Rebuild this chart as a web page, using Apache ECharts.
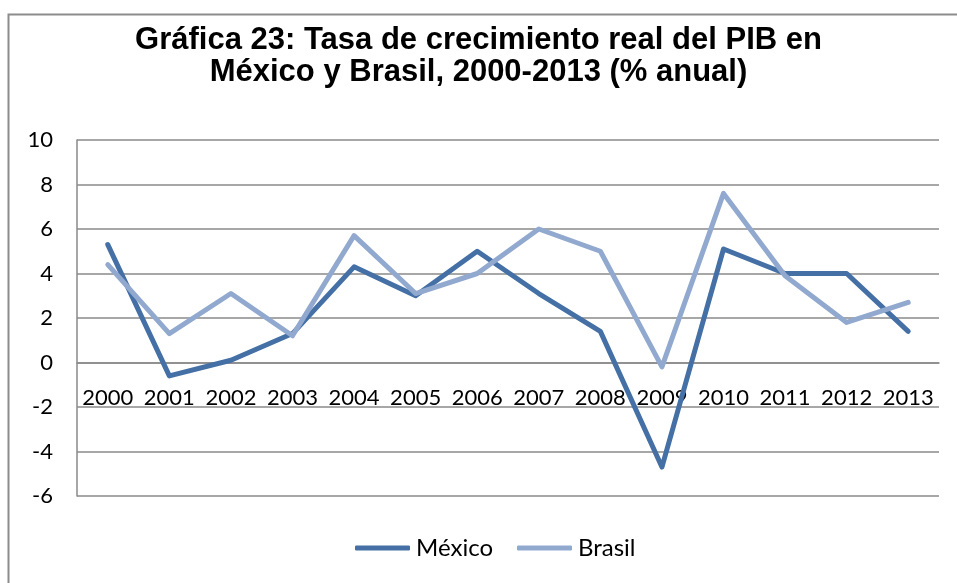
<!DOCTYPE html>
<html>
<head>
<meta charset="utf-8">
<script src="https://cdn.jsdelivr.net/npm/echarts@6/dist/echarts.min.js"></script>
<style>
  html, body { margin: 0; padding: 0; background: #fff; }
  #chart { width: 957px; height: 583px; }
</style>
</head>
<body>
<div id="chart"></div>
<script>
// datos
var years = ['2000', '2001', '2002', '2003', '2004', '2005', '2006',
  '2007', '2008', '2009', '2010', '2011', '2012', '2013'];
var mexico = [5.3, -0.6, 0.1, 1.3, 4.3, 3.0, 5.0, 3.1, 1.4, -4.7, 5.1, 4.0, 4.0, 1.4];
var brasil = [4.4, 1.3, 3.1, 1.2, 5.7, 3.1, 4.0, 6.0, 5.0, -0.2, 7.6, 3.9, 1.8, 2.7];
var yMin = -6, yMax = 10, yStep = 2;

var colorMex = '#4470a6';
var colorBra = '#92a9cf';
var gridColor = '#8a8a8a';
var labelFont = 'Lato, "Open Sans", sans-serif';

// rejilla
var gridTop = 140, gridBottom = 87;
var gridHeight = 583 - gridTop - gridBottom;
// el eje x se dibuja en el cero
var zeroOffset = -gridHeight * (0 - yMin) / (yMax - yMin);

var myChart = echarts.init(document.getElementById('chart'));
var option = {
  backgroundColor: '#fff',
  animation: false,
  title: {
    text: 'Gráfica 23: Tasa de crecimiento real del PIB en\nMéxico y Brasil, 2000-2013 (% anual)',
    left: 'center',
    top: 19,
    textStyle: {
      fontFamily: '"Liberation Sans", Arial, sans-serif',
      fontWeight: 'bold',
      fontSize: 31,
      lineHeight: 32,
      color: '#000'
    }
  },
  graphic: [
    {
      type: 'rect',
      shape: { x: 8.5, y: 14.5, width: 1000, height: 1000 },
      style: { fill: null, stroke: '#8c8c8c', lineWidth: 2 },
      silent: true
    }
  ],
  legend: {
    data: ['México', 'Brasil'],
    bottom: 18,
    left: 350,
    icon: 'roundRect',
    itemWidth: 55,
    itemHeight: 5,
    itemGap: 24,
    textStyle: {
      fontFamily: labelFont,
      fontSize: 24,
      color: '#000',
      padding: [0, 0, 0, 1]
    }
  },
  grid: {
    left: 77,
    right: 18,
    top: gridTop,
    bottom: gridBottom,
    containLabel: false
  },
  xAxis: {
    type: 'category',
    data: years,
    boundaryGap: true,
    offset: zeroOffset,
    axisLine: { onZero: false, lineStyle: { color: gridColor, width: 1.5 } },
    axisTick: { show: false },
    axisLabel: {
      margin: 24,
      fontFamily: labelFont,
      fontSize: 22,
      color: '#000',
      interval: 0
    }
  },
  yAxis: {
    type: 'value',
    min: yMin,
    max: yMax,
    interval: yStep,
    axisLine: { show: true, lineStyle: { color: gridColor, width: 1.5 } },
    axisTick: { show: false },
    splitLine: { show: true, lineStyle: { color: gridColor, width: 1.5 } },
    axisLabel: {
      margin: 24,
      fontFamily: labelFont,
      fontSize: 22,
      color: '#000'
    }
  },
  series: [
    {
      name: 'México',
      type: 'line',
      data: mexico,
      symbol: 'none',
      color: colorMex,
      lineStyle: { width: 5, color: colorMex, cap: 'round', join: 'round' }
    },
    {
      name: 'Brasil',
      type: 'line',
      data: brasil,
      symbol: 'none',
      color: colorBra,
      lineStyle: { width: 5, color: colorBra, cap: 'round', join: 'round' }
    }
  ]
};
myChart.setOption(option);
</script>
</body>
</html>
